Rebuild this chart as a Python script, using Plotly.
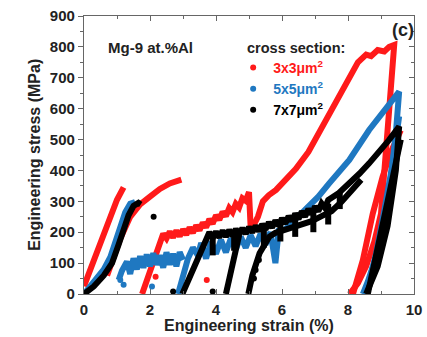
import plotly.graph_objects as go

# ---- 3x3 µm² pillar (red): loading / unloading segments, None separates segments
red_x = [0.0, 0.2, 0.5, 0.8, 1.0, 1.2, None,
         0.7, 0.9, 1.1, 1.4, 1.7, 2.0, 2.3, 2.6, 2.95, None,
         1.76, 1.95, 2.15, 2.3,
         2.4, 2.5, 2.6, 2.7, 2.8, 2.9, 3.0, 3.1, 3.2, 3.3, 3.4, 3.5, 3.6, 3.7, 3.8, 3.9,
         4.0, 4.1, 4.2, 4.3, 4.4, 4.5, 4.6, 4.7, 4.8, 4.9, 5.0, 5.05, None,
         5.1, 5.27, 5.42, 5.6, 5.82, 6.1, 6.42, 6.8, 7.1, 7.5, 7.8, 8.04, 8.3, 8.55, 8.7, 8.9, 9.1, 9.25, 9.4,
         9.25, 9.12, 9.0, 8.8, 8.55, 8.3, 8.05, None,
         8.15, 8.45, 8.75, 9.05, 9.3, 9.6]
red_y = [25, 80, 165, 250, 305, 345, None,
         60, 120, 180, 250, 290, 315, 340, 358, 370, None,
         0, 60, 130, 170,
         195, 180, 202, 183, 205, 187, 209, 192, 215, 198, 222, 206, 231, 216, 242, 228,
         255, 240, 266, 252, 278, 265, 292, 280, 310, 302, 330, 215, None,
         215, 250, 300, 320, 337, 370, 405, 460, 520, 590, 650, 700, 750, 775, 770, 790, 785, 800, 806,
         600, 400, 260, 170, 90, 35, 0, None,
         0, 110, 260, 380, 460, 530]
red_dots_x = [2.17, 3.72]
red_dots_y = [56, 45]

# ---- 5x5 µm² pillar (blue)
blue_x = [0.0, 0.2, 0.4, 0.6, 0.8, 0.95, 1.1, 1.25, 1.4, 1.55, None,
          1.05, 1.15, 1.3, 1.4, 1.5, 1.6, 1.7, 1.8, 1.9, 2.0, 2.1, 2.2, 2.3, 2.4, 2.5, 2.6, 2.7, 2.8, 2.9, 3.0, None,
          2.85, 3.0, 3.15, 3.3, 3.45, 3.55, 3.7, 3.85, 4.0, 4.15, 4.3, 4.45, 4.6, 4.75, 4.9, 5.05, 5.2, 5.35,
          5.5, 5.65, 5.8, 5.9, 6.1, 6.3, 6.5, 6.8, 7.1, 7.43, 8.04, 8.64, 9.24, 9.55,
          9.45, 9.3, 9.1, 8.85, 8.6, 8.45, None,
          8.55, 8.85, 9.1, 9.35, 9.55]
blue_y = [0, 25, 50, 80, 120, 165, 215, 265, 292, 298, None,
          45, 75, 105, 65, 115, 80, 122, 85, 128, 90, 132, 95, 125, 85, 135, 95, 130, 90, 135, 110, None,
          0, 55, 115, 150, 125, 165, 115, 170, 130, 175, 135, 180, 145, 185, 150, 190, 155, 195,
          160, 200, 100, 205, 210, 230, 250, 280, 315, 358, 434, 531, 617, 655,
          520, 380, 240, 120, 40, 0, None,
          0, 130, 270, 420, 575]
blue_dots_x = [1.2, 2.06, 1.1]
blue_dots_y = [30, 24, 45]

# ---- 7x7 µm² pillar (black)
black_x = [0.0, 0.3, 0.6, 0.85, 1.05, 1.2, 1.35, 1.5, 1.65, 1.72, None,
           # reload at 3 % and upper serrated band up to the final peak
           2.98, 3.15, 3.32, 3.5, 3.63,
           3.8, 3.9, 4.0, 4.1, 4.2, 4.3, 4.4, 4.5, 4.6, 4.7, 4.8, 4.9, 5.0, 5.1, 5.2, 5.3, 5.4, 5.5,
           5.6, 5.7, 5.8, 5.9, 6.0, 6.1, 6.2, 6.3, 6.4, 6.5, 6.6, 6.7, 6.8, 6.9, 7.0, 7.1, 7.2, 7.3, 7.4,
           7.7, 8.04, 8.35, 8.64, 8.95, 9.24, 9.55,
           # final unload and reload
           9.45, 9.2, 8.9, 8.55, None,
           8.6, 9.0, 9.3, 9.6, None,
           # reload at 4.3 %
           4.3, 4.45, 4.61, 4.7, None,
           # reload at 5 % and lower band
           4.98, 5.1, 5.32, 5.62, 5.8, 6.0, 6.3, 6.6, 6.9, 7.2, 7.5, 7.8, 8.1, 8.4, None,
           # stress drops
           3.9, 3.9, None, 4.55, 4.55, None, 5.45, 5.45, None, 5.95, 5.95, None,
           6.4, 6.4, None, 6.95, 6.95, None, 7.4, 7.4, None, 7.75, 7.75]
black_y = [0, 25, 60, 100, 160, 210, 255, 285, 295, 290, None,
           0, 40, 80, 130, 155,
           200, 181, 202, 183, 205, 186, 207, 188, 210, 192, 213, 195, 217, 199, 221, 203, 226, 209,
           232, 215, 238, 221, 245, 228, 252, 236, 260, 243, 267, 251, 275, 259, 283, 268, 293, 279, 304,
           325, 358, 390, 423, 460, 498, 542,
           400, 220, 90, 0, None,
           0, 200, 360, 500, None,
           0, 80, 164, 190, None,
           0, 60, 132, 186, 198, 205, 212, 226, 236, 252, 268, 298, 332, 370, None,
           188, 125, None, 196, 140, None, 218, 150, None, 234, 170, None,
           250, 185, None, 272, 200, None, 292, 225, None, 330, 275]
black_dots_x = [2.11, 2.7, 3.9, 5.15, 5.2, 5.3]
black_dots_y = [250, 8, 8, 50, 78, 110]

series = [
    ("3x3μm<sup>2</sup>", "#ff1a1a", red_x, red_y, red_dots_x, red_dots_y),
    ("5x5μm<sup>2</sup>", "#1f78c1", blue_x, blue_y, blue_dots_x, blue_dots_y),
    ("7x7μm<sup>2</sup>", "#000000", black_x, black_y, black_dots_x, black_dots_y),
]

FONT = "Liberation Sans"
fig = go.Figure()
for name, color, xs, ys, dx, dy in series:
    fig.add_trace(go.Scatter(x=xs, y=ys, mode="lines",
                             line=dict(color=color, width=6),
                             showlegend=False, hoverinfo="skip"))
for name, color, xs, ys, dx, dy in series:
    fig.add_trace(go.Scatter(x=dx, y=dy, mode="markers",
                             marker=dict(color=color, size=6),
                             name=f'<span style="color:{color}">{name}</span>'))

# invisible trace that carries the top/right tick axes
fig.add_trace(go.Scatter(x=[None], y=[None], xaxis="x2", yaxis="y2", showlegend=False))

axis_common = dict(showline=True, linecolor="#666", linewidth=1.2, tickcolor="#666",
                   ticklen=5, tickwidth=1.2, showgrid=False, zeroline=False, automargin=False)

fig.update_layout(
    width=427, height=337,
    margin=dict(l=84, r=13, t=16, b=43),
    paper_bgcolor="white", plot_bgcolor="white",
    font=dict(family=FONT, size=14, color="#222", weight="bold"),
    xaxis=dict(range=[0, 10], dtick=2, ticks="inside", mirror=True, ticklabelstandoff=2,
               minor=dict(dtick=1, ticks="inside", ticklen=3, tickcolor="#666"),
               tickfont=dict(size=15, weight="bold"), **axis_common),
    yaxis=dict(range=[0, 900], dtick=100, ticks="outside", mirror=True,
               minor=dict(dtick=50, ticks="outside", ticklen=3, tickcolor="#666"),
               tickfont=dict(size=15, weight="bold"), **axis_common),
    xaxis2=dict(range=[0, 10], overlaying="x", side="top", dtick=2, ticks="inside",
                showticklabels=False, showline=False, showgrid=False, zeroline=False, automargin=False,
                tickcolor="#666", ticklen=5, tickwidth=1.2,
                minor=dict(dtick=1, ticks="inside", ticklen=3, tickcolor="#666")),
    yaxis2=dict(range=[0, 900], overlaying="y", side="right", dtick=100, ticks="inside",
                showticklabels=False, showline=False, showgrid=False, zeroline=False, automargin=False,
                tickcolor="#666", ticklen=5, tickwidth=1.2,
                minor=dict(dtick=50, ticks="inside", ticklen=3, tickcolor="#666")),
    legend=dict(x=0.452, y=0.871, xanchor="left", yanchor="top", bgcolor="rgba(0,0,0,0)",
                font=dict(size=14, weight="bold"), itemwidth=30, tracegroupgap=0),
    annotations=[
        # axis titles
        dict(text="Engineering strain (%)", xref="paper", yref="paper", x=0.5, y=-0.115,
             xanchor="center", yanchor="middle", showarrow=False,
             font=dict(size=16, weight="bold", color="#222")),
        dict(text="Engineering stress (MPa)", xref="paper", yref="paper", x=-0.152, y=0.5,
             xanchor="center", yanchor="middle", textangle=-90, showarrow=False,
             font=dict(size=16, weight="bold", color="#222")),
        # in-plot labels
        dict(text="cross section:", xref="paper", yref="paper", x=0.488, y=0.884,
             xanchor="left", yanchor="middle", showarrow=False,
             font=dict(size=14.5, weight="bold", color="#222")),
        dict(text="Mg-9 at.%Al", xref="paper", yref="paper", x=0.067, y=0.888,
             xanchor="left", yanchor="middle", showarrow=False,
             font=dict(size=15, weight="bold", color="#222")),
        dict(text="(c)", xref="paper", yref="paper", x=0.966, y=0.948,
             xanchor="center", yanchor="middle", showarrow=False,
             font=dict(size=18, weight="bold", color="#222")),
    ],
)

fig.write_html("out.html")
